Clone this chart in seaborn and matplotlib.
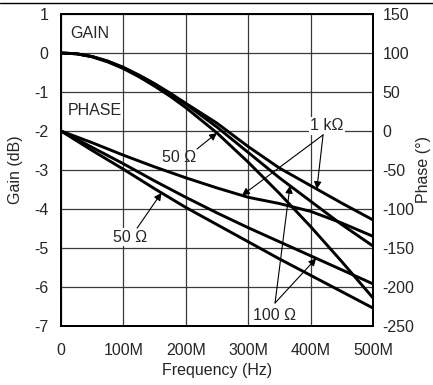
import numpy as np
import pandas as pd
import matplotlib
matplotlib.use('Agg')
import matplotlib.pyplot as plt
from matplotlib.lines import Line2D
import seaborn as sns

# ---- data ----
freq_mhz = [0, 25, 50, 75, 100, 125, 150, 175, 200, 250, 300, 350, 400, 450, 500]
gain_1k = [0, -0.02, -0.09, -0.21, -0.37, -0.57, -0.79, -1.03, -1.29, -1.8, -2.4, -2.95, -3.4, -3.85, -4.28]
gain_100 = [0, -0.02, -0.09, -0.21, -0.37, -0.57, -0.79, -1.04, -1.31, -1.9, -2.55, -3.2, -3.8, -4.4, -4.95]
gain_50 = [0, -0.02, -0.1, -0.23, -0.4, -0.61, -0.85, -1.11, -1.4, -2.05, -2.8, -3.6, -4.45, -5.35, -6.28]
phase_1k = [0, -7.5, -15, -23, -31, -38.5, -46, -53, -60, -73, -85, -93, -103, -118, -135]
phase_100 = [0, -10.5, -21, -31.5, -42, -53, -64, -74.5, -85, -105, -124, -142, -160, -178, -196]
phase_50 = [0, -12.5, -25, -37, -49, -61.5, -74, -86, -98, -120, -142, -164, -185, -206, -227]

x_ticks = [0, 100, 200, 300, 400, 500]
x_tick_labels = ['0', '100M', '200M', '300M', '400M', '500M']
gain_ticks = [1, 0, -1, -2, -3, -4, -5, -6, -7]
phase_ticks = [150, 100, 50, 0, -50, -100, -150, -200, -250]

sns.set_style('white')
plt.rcParams['font.family'] = ['Liberation Sans', 'DejaVu Sans']
FS = 11.5

W, H = 433, 385
fig = plt.figure(figsize=(W / 100, H / 100), dpi=100)
L, R, T, B = 61, 373, 14, 326
ax = fig.add_axes([L / W, 1 - B / H, (R - L) / W, (B - T) / H])
ax2 = ax.twinx()

lw = 2.1
gdf = pd.DataFrame({'f': freq_mhz, 'g1k': gain_1k, 'g100': gain_100, 'g50': gain_50,
                    'p1k': phase_1k, 'p100': phase_100, 'p50': phase_50})
for col in ['g1k', 'g100', 'g50']:
    sns.lineplot(data=gdf, x='f', y=col, ax=ax, color='black', lw=lw, zorder=3)
for col in ['p1k', 'p100', 'p50']:
    sns.lineplot(data=gdf, x='f', y=col, ax=ax2, color='black', lw=lw, zorder=3)

ax.set_xlim(0, 500)
ax.set_ylim(-7, 1)
ax2.set_ylim(-250, 150)
ax.set_xticks(x_ticks)
ax.set_xticklabels(x_tick_labels, fontsize=FS)
ax.set_yticks(gain_ticks)
ax.set_yticklabels([str(t) for t in gain_ticks], fontsize=FS)
ax2.set_yticks(phase_ticks)
ax2.set_yticklabels([str(t) for t in phase_ticks], fontsize=FS)
ax.tick_params(axis='x', length=0, pad=12)
ax.tick_params(axis='y', length=0, pad=9)
ax2.tick_params(axis='y', length=0, pad=7)
ax.grid(True, color='#3a3a3a', lw=0.9)
ax.set_axisbelow(True)
ax2.grid(False)
for a in (ax, ax2):
    for s in a.spines.values():
        s.set_color('black')
        s.set_linewidth(1.4)

ax.set_xlabel('Frequency (Hz)', fontsize=FS, labelpad=4)
ax.set_ylabel('Gain (dB)', fontsize=FS, labelpad=8)
ax2.set_ylabel('Phase (°)', fontsize=FS, labelpad=1)

# ---- texts ----
ax.text(0.029, 0.939, 'GAIN', transform=ax.transAxes, fontsize=FS, ha='left', va='center', zorder=5)
ax.text(0.022, 0.692, 'PHASE', transform=ax.transAxes, fontsize=FS, ha='left', va='center', zorder=5,
        bbox=dict(facecolor='white', edgecolor='none', pad=1))

wbox = dict(facecolor='white', edgecolor='none', pad=1)
ax.text(426, -1.87, '1 kΩ', fontsize=FS, ha='center', va='center', zorder=5, bbox=wbox)
ax.text(189, -2.67, '50 Ω', fontsize=FS, ha='center', va='center', zorder=5)
ax.text(110.6, -4.72, '50 Ω', fontsize=FS, ha='center', va='center', zorder=5, bbox=wbox)
ax.text(343, -6.72, '100 Ω', fontsize=FS, ha='center', va='center', zorder=5, bbox=wbox)

ap = dict(arrowstyle='-|>', color='black', lw=0.8, mutation_scale=11, shrinkA=0, shrinkB=0)

def arrow(tail, f_tip, series, on_phase):
    y = float(np.interp(f_tip, freq_mhz, series))
    dst = ax2.transData if on_phase else ax.transData
    ax2.annotate('', xy=(f_tip, y), xycoords=dst, xytext=tail, textcoords=ax.transData,
                 arrowprops=ap, zorder=6)

arrow((218, -2.46), 250, gain_50, False)
arrow((122, -4.49), 161, phase_50, True)
arrow((420, -2.10), 290, phase_1k, True)
arrow((420, -2.10), 410, gain_1k, False)
arrow((343, -6.41), 367, gain_100, False)
arrow((343, -6.41), 409, phase_100, True)

fig.add_artist(Line2D([0, 1], [1 - 2.5 / H, 1 - 2.5 / H], color='black', lw=1.0, transform=fig.transFigure))

fig.savefig('out.png', dpi=100)
